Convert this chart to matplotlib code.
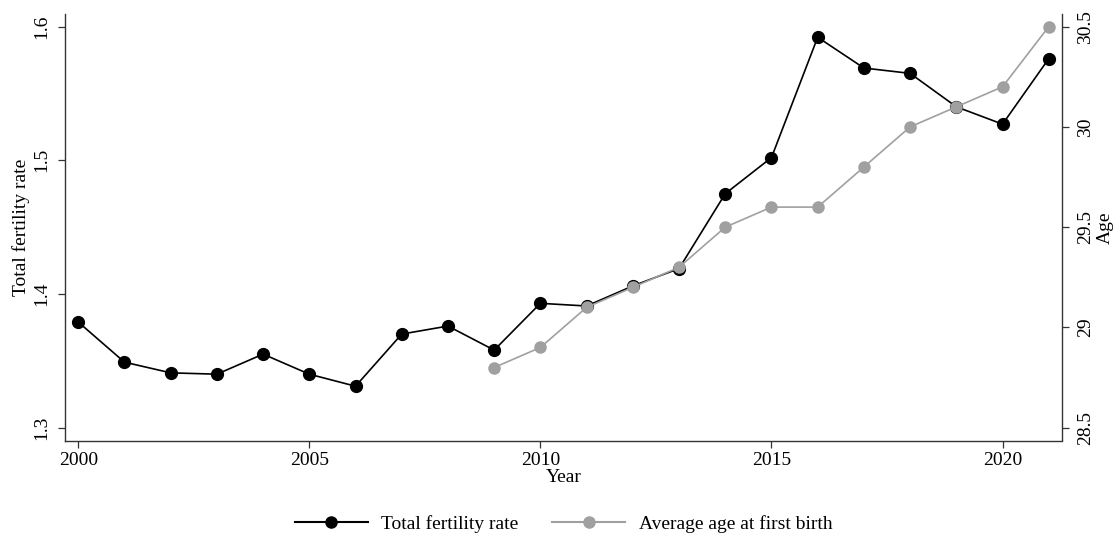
import matplotlib
matplotlib.use("Agg")
import matplotlib.pyplot as plt
from matplotlib.lines import Line2D

plt.rcParams['font.family'] = ['Liberation Serif', 'DejaVu Serif']

years = list(range(2000, 2022))
tfr = [1.379, 1.349, 1.341, 1.340, 1.355, 1.340, 1.331, 1.370, 1.376, 1.358,
       1.393, 1.391, 1.406, 1.419, 1.475, 1.502, 1.592, 1.569, 1.565, 1.540,
       1.527, 1.576]
age_years = list(range(2009, 2022))
age = [28.8, 28.9, 29.1, 29.2, 29.3, 29.5, 29.6, 29.6, 29.8, 30.0, 30.1, 30.2, 30.5]

xticks = [2000, 2005, 2010, 2015, 2020]
left_ticks = [1.3, 1.4, 1.5, 1.6]
left_labels = ["1.3", "1.4", "1.5", "1.6"]
right_ticks = [28.5, 29, 29.5, 30, 30.5]
right_labels = ["28.5", "29", "29.5", "30", "30.5"]

W, H = 1116, 539
fig = plt.figure(figsize=(W / 100, H / 100), dpi=100)
ax = fig.add_axes([65.3 / W, 1 - 440.5 / H, (1061.7 - 65.3) / W, (440.5 - 14) / H])
ax2 = ax.twinx()

black = '#000000'
gray = '#a0a0a0'
fs = 14

ax.plot(years, tfr, color=black, lw=1.2, marker='o', ms=8.5, mfc=black, mec=black, zorder=3)
ax2.plot(age_years, age, color=gray, lw=1.2, marker='o', ms=8, mfc=gray, mec=gray, zorder=3)

ax.set_xlim(1999.72, 2021.28)
ax.set_ylim(1.2904, 1.6094)
ax2.set_ylim(28.436, 30.563)

ax.set_xticks(xticks)
ax.set_xticklabels([str(x) for x in xticks], fontsize=fs)
ax.set_yticks(left_ticks)
ax.set_yticklabels(left_labels, fontsize=fs, rotation=90, va='center')
ax2.set_yticks(right_ticks)
ax2.set_yticklabels(right_labels, fontsize=fs, rotation=90, va='center')

for a in (ax, ax2):
    a.tick_params(direction='out', length=5, width=0.9, colors='#333333', labelcolor='black')
    a.spines['top'].set_visible(False)
    for s in ('left', 'right', 'bottom'):
        a.spines[s].set_color('#333333')
        a.spines[s].set_linewidth(1.0)
ax.tick_params(axis='x', pad=3)
ax.tick_params(axis='y', pad=6)
ax2.tick_params(axis='y', pad=6)
ax2.spines['left'].set_visible(False)
ax2.spines['bottom'].set_visible(False)
ax.spines['right'].set_visible(False)

ax.set_xlabel("Year", fontsize=fs, labelpad=0)
ax.set_ylabel("Total fertility rate", fontsize=fs, labelpad=2)
ax2.set_ylabel("Age", fontsize=fs, rotation=90, labelpad=2)

handles = [Line2D([], [], color=black, lw=1.5, marker='o', ms=8, mfc=black, mec=black),
           Line2D([], [], color=gray, lw=1.5, marker='o', ms=8, mfc=gray, mec=gray)]
fig.legend(handles, ["Total fertility rate", "Average age at first birth"],
           loc='center', bbox_to_anchor=(563.5 / W, 1 - 524 / H), ncol=2, frameon=False,
           fontsize=fs, handlelength=3.76, handletextpad=0.69, columnspacing=1.72)

fig.savefig("out.png", dpi=100)
